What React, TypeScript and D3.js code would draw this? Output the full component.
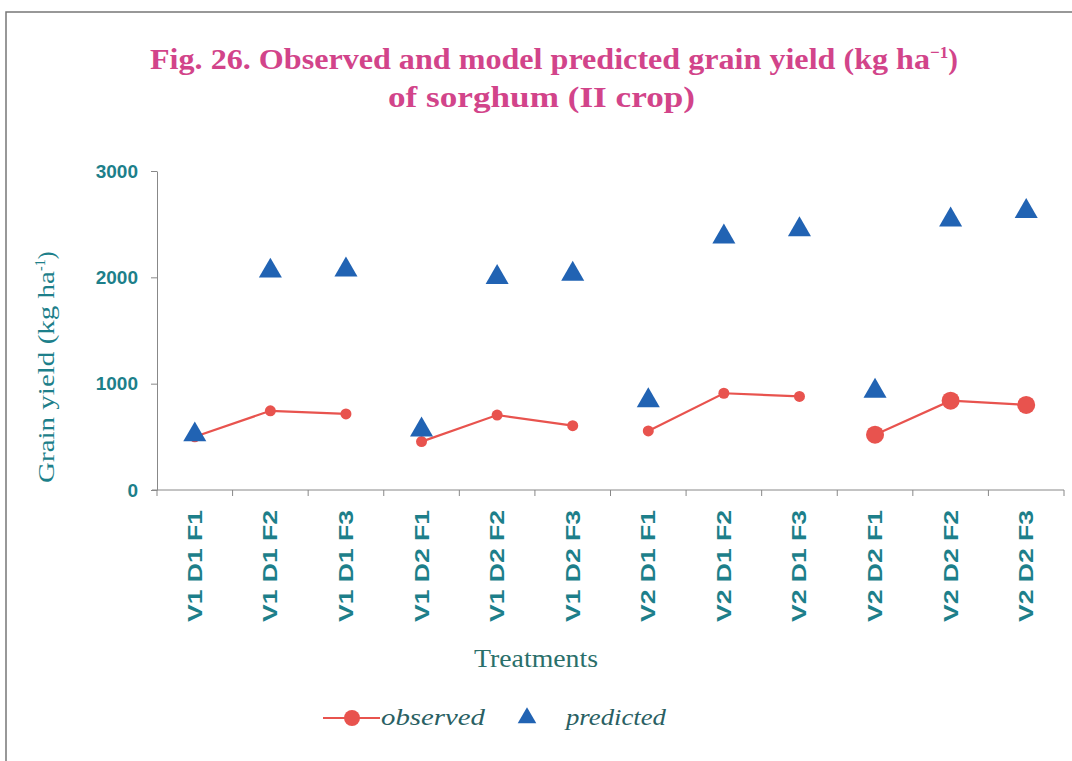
import React, { useEffect, useRef } from "react";
import * as d3 from "d3";

const categories = [
  "V1 D1 F1", "V1 D1 F2", "V1 D1 F3",
  "V1 D2 F1", "V1 D2 F2", "V1 D2 F3",
  "V2 D1 F1", "V2 D1 F2", "V2 D1 F3",
  "V2 D2 F1", "V2 D2 F2", "V2 D2 F3",
];
const observed = [500, 745, 715, 455, 705, 605, 555, 910, 880, 520, 840, 800];
const predicted = [520, 2060, 2070, 565, 2000, 2030, 840, 2380, 2450, 930, 2540, 2620];
const observedMarkerLarge = [false, false, false, false, false, false, false, false, false, true, true, true];
const groups = [[0, 1, 2], [3, 4, 5], [6, 7, 8], [9, 10, 11]];
const yTicks = [0, 1000, 2000, 3000];

const W = 1072;
const H = 761;
const TEAL = "#1d7f8a";
const PINK = "#d2448a";
const RED = "#e8534e";
const BLUE = "#2163b3";
const SERIF = "Liberation Serif, Times New Roman, serif";
const SANS = "Liberation Sans, Arial, sans-serif";

export default function App() {
  const ref = useRef<SVGSVGElement>(null);
  useEffect(() => {
    const svg = d3.select(ref.current);
    svg.selectAll("*").remove();
    const left = 157, right = 1064, top = 171, bottom = 490;
    const x = d3.scaleBand<string>().domain(categories).range([left, right]);
    const y = d3.scaleLinear().domain([0, 3000]).range([bottom, top]);

    // frame
    svg.append("path").attr("d", `M6,${H} L6,12 L${W},12`).attr("fill", "none").attr("stroke", "#777").attr("stroke-width", 1.5);

    // title
    const title = svg.append("text").attr("x", 150).attr("y", 69)
      .attr("font-family", SERIF).attr("font-weight", "bold")
      .attr("font-size", 29).attr("fill", PINK);
    title.append("tspan").attr("textLength", 780).attr("lengthAdjust", "spacingAndGlyphs")
      .text("Fig. 26. Observed and model predicted grain yield (kg ha");
    title.append("tspan").attr("dy", -11).attr("font-size", 17).text("\u22121");
    title.append("tspan").attr("dy", 11).text(")");
    svg.append("text").attr("x", 388).attr("y", 107)
      .attr("font-family", SERIF).attr("font-weight", "bold")
      .attr("font-size", 29).attr("fill", PINK)
      .attr("textLength", 307).attr("lengthAdjust", "spacingAndGlyphs").text("of sorghum (II crop)");

    // y axis
    const ya = svg.append("g").attr("transform", `translate(${left},0)`)
      .call(d3.axisLeft(y).tickValues(yTicks).tickSize(6).tickSizeOuter(0).tickPadding(13).tickFormat(d3.format("d")));
    ya.select(".domain").attr("stroke", "#888");
    ya.selectAll(".tick line").attr("stroke", "#888");
    ya.selectAll(".tick text").attr("font-family", SANS).attr("font-weight", "bold")
      .attr("font-size", 19).attr("fill", TEAL);

    // x axis
    const xa = svg.append("g").attr("transform", `translate(0,${bottom})`);
    xa.append("line").attr("x1", left - 5).attr("x2", right).attr("y1", 0).attr("y2", 0).attr("stroke", "#888");
    const bounds = categories.map((c) => x(c)!).concat([right]);
    xa.selectAll("line.tk").data(bounds).enter().append("line").attr("class", "tk")
      .attr("x1", (d) => d).attr("x2", (d) => d).attr("y1", 0).attr("y2", 6).attr("stroke", "#888");
    xa.selectAll("text.lbl").data(categories).enter().append("text").attr("class", "lbl")
      .attr("transform", (d) => `translate(${x(d)! + x.bandwidth() / 2 + 7},20) rotate(-90)`)
      .attr("text-anchor", "end").attr("font-family", SANS).attr("font-weight", "bold")
      .attr("font-size", 20).attr("fill", TEAL)
      .attr("textLength", 112).attr("lengthAdjust", "spacingAndGlyphs").text((d) => d);

    // axis titles
    const yt = svg.append("text").attr("transform", `translate(54,483) rotate(-90)`)
      .attr("font-family", SERIF).attr("font-size", 23).attr("fill", TEAL);
    yt.append("tspan").attr("textLength", 212).attr("lengthAdjust", "spacingAndGlyphs").text("Grain yield (kg ha");
    yt.append("tspan").attr("dy", -9).attr("font-size", 14).text("-1");
    yt.append("tspan").attr("dy", 9).text(")");
    svg.append("text").attr("x", 474).attr("y", 667)
      .attr("font-family", SERIF).attr("font-size", 25).attr("fill", "#2a6f6a")
      .attr("textLength", 124).attr("lengthAdjust", "spacingAndGlyphs").text("Treatments");

    const cx = (i: number) => x(categories[i])! + x.bandwidth() / 2;

    // observed lines
    const line = d3.line<number>().x((i) => cx(i)).y((i) => y(observed[i]));
    groups.forEach((g) => {
      svg.append("path").attr("d", line(g)).attr("fill", "none").attr("stroke", RED).attr("stroke-width", 2.2);
    });
    svg.selectAll("circle.obs").data(observed).enter().append("circle").attr("class", "obs")
      .attr("cx", (_, i) => cx(i)).attr("cy", (d) => y(d)).attr("r", (_, i) => (observedMarkerLarge[i] ? 9 : 5.5))
      .attr("fill", RED);

    // predicted triangles
    const tri = d3.symbol().type(d3.symbolTriangle).size(230);
    svg.selectAll("path.pred").data(predicted).enter().append("path").attr("class", "pred")
      .attr("transform", (d, i) => `translate(${cx(i)},${y(d)})`).attr("d", tri()!).attr("fill", BLUE);

    // legend
    const ly = 718;
    svg.append("line").attr("x1", 323).attr("x2", 380).attr("y1", ly).attr("y2", ly).attr("stroke", RED).attr("stroke-width", 2);
    svg.append("circle").attr("cx", 352).attr("cy", ly).attr("r", 8).attr("fill", RED);
    svg.append("text").attr("x", 381).attr("y", ly + 7).attr("font-family", SERIF)
      .attr("font-style", "italic").attr("font-size", 24).attr("fill", "#2a5f63")
      .attr("textLength", 104).attr("lengthAdjust", "spacingAndGlyphs").text("observed");
    svg.append("path").attr("transform", `translate(527,${ly})`).attr("d", d3.symbol().type(d3.symbolTriangle).size(150)()!).attr("fill", BLUE);
    svg.append("text").attr("x", 566).attr("y", ly + 7).attr("font-family", SERIF)
      .attr("font-style", "italic").attr("font-size", 24).attr("fill", "#2a5f63")
      .attr("textLength", 100).attr("lengthAdjust", "spacingAndGlyphs").text("predicted");
  }, []);
  return (
    <svg ref={ref} width={W} height={H} style={{ position: "absolute", left: 0, top: 0, background: "#fff" }} />
  );
}
